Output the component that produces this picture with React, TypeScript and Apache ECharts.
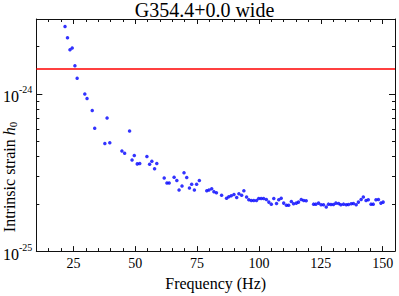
import React, { useEffect, useRef } from 'react';
import * as echarts from 'echarts';

// Frequency (Hz) of each search point
const frequencies = [
  21.6, 22.6, 23.6, 24.5, 25.6, 26.5, 29.6, 30.5, 32.6, 33.6, 37.7, 38.6, 39.7,
  44.6, 45.7, 47.7, 48.7, 49.6, 50.8, 51.8, 54.7, 55.8, 56.7, 57.8, 58.7,
  61.7, 62.8, 63.7, 65.7, 66.8, 67.7, 68.9, 69.7, 70.8, 71.9, 72.8, 73.9, 74.8, 75.9,
  78.9, 79.8, 80.9, 81.8, 82.8, 84.9, 86.9, 87.8, 88.8, 89.9, 91.0, 91.9, 93.0, 93.9,
  95.0, 95.9, 96.9, 97.9, 99.0, 99.9, 100.9, 101.9, 103.0, 104.0, 105.0, 106.0, 107.1,
  108.0, 109.0, 110.0, 111.1, 112.0, 113.1, 114.0, 115.1, 116.0, 117.1, 118.1, 119.1,
  122.1, 123.0, 124.1, 125.1, 126.1, 127.2, 128.1, 129.1, 130.1, 131.1, 132.2, 133.1,
  134.2, 135.3, 136.2, 137.3, 138.2, 139.3, 140.2, 141.3, 142.2, 143.3, 144.2, 145.3,
  146.2, 147.3, 148.3, 149.3, 150.2,
];

// Intrinsic strain upper limits h0
const strain = [
  2.69e-24, 2.28e-24, 1.91e-24, 1.96e-24, 1.51e-24, 1.26e-24, 1.0e-24, 9.35e-25, 7.84e-25, 6.06e-25, 4.84e-25, 7.03e-25, 4.89e-25,
  4.34e-25, 4.2e-25, 5.81e-25, 3.8e-25, 4.06e-25, 3.59e-25, 3.61e-25, 4.0e-25, 3.57e-25, 3.73e-25, 3.34e-25, 3.61e-25,
  2.92e-25, 2.71e-25, 2.71e-25, 2.95e-25, 2.81e-25, 2.45e-25, 2.6e-25, 3.15e-25, 2.94e-25, 2.52e-25, 2.66e-25, 2.45e-25, 2.66e-25, 2.81e-25,
  2.42e-25, 2.45e-25, 2.49e-25, 2.39e-25, 2.35e-25, 2.27e-25, 2.17e-25, 2.22e-25, 2.25e-25, 2.29e-25, 2.19e-25, 2.32e-25, 2.27e-25, 2.42e-25,
  2.21e-25, 2.12e-25, 2.1e-25, 2.1e-25, 2.1e-25, 2.16e-25, 2.16e-25, 2.16e-25, 2.13e-25, 2.05e-25, 1.99e-25, 2.16e-25, 2.01e-25,
  2.12e-25, 2.17e-25, 2.02e-25, 1.96e-25, 1.96e-25, 2.07e-25, 2.0e-25, 2.02e-25, 2.05e-25, 2.13e-25, 2.1e-25, 2.09e-25,
  1.99e-25, 1.99e-25, 2.02e-25, 1.97e-25, 1.97e-25, 1.91e-25, 1.99e-25, 1.98e-25, 1.98e-25, 2.02e-25, 2.01e-25, 1.97e-25,
  1.99e-25, 1.97e-25, 1.98e-25, 2.0e-25, 2.01e-25, 1.97e-25, 2.05e-25, 2.13e-25, 2.21e-25, 2.1e-25, 2.12e-25, 1.99e-25,
  1.99e-25, 2.12e-25, 2.13e-25, 2.02e-25, 2.05e-25,
];

// Indirect (age-based) limit, red line
const indirectLimit = 1.45e-24;

// Axis ranges and ticks
const xRange = [10, 155];
const xMajorTicks = [25, 50, 75, 100, 125, 150];
const yRange = [1e-25, 3e-24];
const yDecadeExponents = [-25, -24];
const yMinorMantissas = [2, 3, 4, 5, 6, 7, 8, 9];

const FONT = 'Liberation Serif';

export default function App() {
  const ref = useRef<HTMLDivElement>(null);

  useEffect(() => {
    const chart = echarts.init(ref.current!, null, { renderer: 'svg' });
    const yMin = Math.log10(yRange[0]);
    const yMax = Math.log10(yRange[1]);
    const yMinor: number[] = [];
    yDecadeExponents.forEach((e) => {
      yMinorMantissas.forEach((m) => {
        const v = Math.log10(m) + e;
        if (v > yMin && v < yMax - 1e-6) yMinor.push(v);
      });
    });

    const line = { color: '#111', width: 1 };
    const base = { type: 'value', splitLine: { show: false } };

    const xCommon = { ...base, min: xRange[0], max: xRange[1] };
    const yCommon = { ...base, min: yMin, max: yMax };

    chart.setOption({
      animation: false,
      textStyle: { fontFamily: FONT },
      grid: { left: 35, right: 4, top: 19, bottom: 40 },
      graphic: [
        {
          type: 'text',
          x: 204.5,
          y: 0,
          style: {
            text: 'G354.4+0.0 wide',
            fontSize: 20,
            fontFamily: FONT,
            fill: '#000',
            align: 'center',
            verticalAlign: 'top',
          },
        },
        {
          type: 'text',
          x: 9.5,
          y: 177,
          rotation: Math.PI / 2,
          style: {
            text: 'Intrinsic strain {i|h}{sub|0}',
            fontSize: 16,
            fontFamily: FONT,
            fill: '#000',
            align: 'center',
            verticalAlign: 'middle',
            rich: {
              i: { fontSize: 16, fontFamily: FONT, fontStyle: 'italic', fill: '#000' },
              sub: { fontSize: 11, fontFamily: FONT, fill: '#000', verticalAlign: 'bottom', padding: [6, 0, 0, 0] },
            },
          },
        },
      ],
      xAxis: [
        {
          ...xCommon,
          interval: 5,
          position: 'bottom',
          axisLine: { show: true, onZero: false, lineStyle: line },
          axisTick: { show: true, inside: true, length: 3, lineStyle: line },
          axisLabel: {
            customValues: xMajorTicks,
            fontSize: 14,
            fontFamily: FONT,
            color: '#000',
            margin: 5,
          },
          name: 'Frequency (Hz)',
          nameLocation: 'middle',
          nameGap: 22,
          nameTextStyle: { fontSize: 16, fontFamily: FONT, color: '#000' },
        },
        {
          ...xCommon,
          position: 'bottom',
          axisLine: { show: false },
          axisTick: { show: true, inside: true, length: 5, customValues: xMajorTicks, lineStyle: line },
          axisLabel: { show: false },
        },
        {
          ...xCommon,
          interval: 5,
          position: 'top',
          axisLine: { show: true, onZero: false, lineStyle: line },
          axisTick: { show: true, inside: true, length: 3, lineStyle: line },
          axisLabel: { show: false },
        },
        {
          ...xCommon,
          position: 'top',
          axisLine: { show: false },
          axisTick: { show: true, inside: true, length: 5, customValues: xMajorTicks, lineStyle: line },
          axisLabel: { show: false },
        },
      ],
      yAxis: [
        {
          ...yCommon,
          position: 'left',
          axisLine: { show: true, onZero: false, lineStyle: line },
          axisTick: { show: true, inside: true, length: 6, customValues: yDecadeExponents, lineStyle: line },
          axisLabel: {
            customValues: yDecadeExponents,
            margin: 4,
            fontFamily: FONT,
            formatter: (v: number) => `{b|10}{s|-${Math.abs(Math.round(v))}}`,
            rich: {
              b: { fontSize: 16, fontFamily: FONT, color: '#000', lineHeight: 18, padding: [6, 0, 0, 0] },
              s: { fontSize: 10, fontFamily: FONT, color: '#000', verticalAlign: 'top' },
            },
          },
        },
        {
          ...yCommon,
          position: 'left',
          axisLine: { show: false },
          axisTick: { show: true, inside: true, length: 3, customValues: yMinor, lineStyle: line },
          axisLabel: { show: false },
        },
        {
          ...yCommon,
          position: 'right',
          axisLine: { show: true, onZero: false, lineStyle: line },
          axisTick: { show: true, inside: true, length: 6, customValues: yDecadeExponents, lineStyle: line },
          axisLabel: { show: false },
        },
        {
          ...yCommon,
          position: 'right',
          axisLine: { show: false },
          axisTick: { show: true, inside: true, length: 3, customValues: yMinor, lineStyle: line },
          axisLabel: { show: false },
        },
      ],
      series: [
        {
          type: 'scatter',
          xAxisIndex: 0,
          yAxisIndex: 0,
          symbol: 'circle',
          symbolSize: 3.5,
          itemStyle: { color: '#0000ff' },
          data: frequencies.map((f, i) => [f, Math.log10(strain[i])]),
          markLine: {
            silent: true,
            symbol: ['none', 'none'],
            label: { show: false },
            lineStyle: { color: '#ff0000', width: 1.5, type: 'solid' },
            data: [{ yAxis: Math.log10(indirectLimit) }],
          },
        },
      ],
    });

    return () => chart.dispose();
  }, []);

  return (
    <div
      ref={ref}
      style={{ position: 'fixed', left: 0, top: 0, width: 399, height: 296, background: '#fff' }}
    />
  );
}
